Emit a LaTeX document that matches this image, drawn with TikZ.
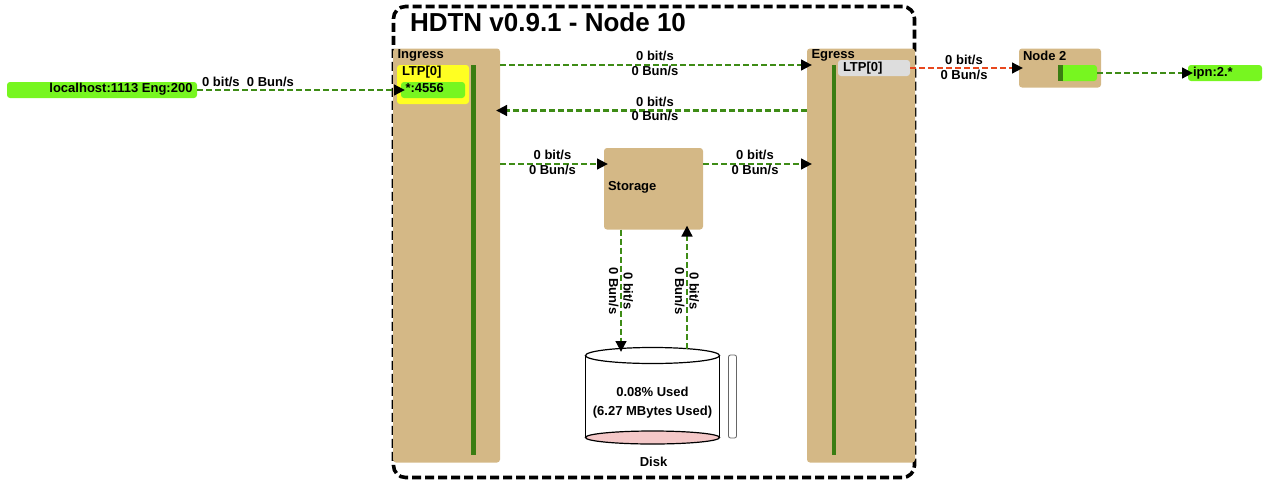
\documentclass[tikz,border=0pt]{standalone}
\usepackage{fontspec}
\setmainfont{Liberation Sans}
\usetikzlibrary{arrows.meta,calc}
\definecolor{hdtntan}{RGB}{212,184,134}
\definecolor{hdtnlime}{RGB}{119,246,32}
\definecolor{ltpyellow}{RGB}{255,255,34}
\definecolor{darkbar}{RGB}{58,125,18}
\definecolor{flowgreen}{RGB}{62,140,22}
\definecolor{flowred}{RGB}{232,72,30}
\definecolor{ltpgray}{RGB}{221,221,221}
\definecolor{diskpink}{RGB}{244,200,200}
\begin{document}
\begin{tikzpicture}[x=1pt,y=-1pt,
  every node/.style={inner sep=0pt, outer sep=0pt},
  lbl/.style={font=\bfseries\fontsize{13}{14.5}\selectfont, align=center},
  tanbox/.style={fill=hdtntan, rounded corners=3pt, anchor=north west},
  limebox/.style={fill=hdtnlime, rounded corners=3pt, anchor=north west},
  barbox/.style={fill=darkbar, anchor=north west},
  flow/.style={draw=flowgreen, line width=2.8pt, dash pattern=on 6pt off 3pt,
    -{Triangle[length=11pt,width=10.5pt,color=black,fill=black]}},
  redflow/.style={flow, draw=flowred}
]
\useasboundingbox (0,0) rectangle (1265,482);
% outer frame
\node[draw=black, line width=3.6pt, dash pattern=on 9pt off 4pt, rounded corners=12pt,
  anchor=north west, minimum width=521pt, minimum height=471pt] (frame) at (393.5,6.5) {};
\node[lbl, font=\bfseries\fontsize{26}{28}\selectfont, anchor=west] (title) at (410,22) {HDTN v0.9.1 - Node 10};

% ingress
\node[tanbox, minimum width=107pt, minimum height=414pt] (ingress) at (393,48.5) {};
\node[lbl, anchor=west] (ingresslbl) at (397.5,55.5) {Ingress};
\node[fill=ltpyellow, rounded corners=3pt, anchor=north west, minimum width=72pt, minimum height=39pt] (ltpbox) at (397,65) {};
\node[lbl, anchor=west] (ltplbl) at (402,72.5) {LTP[0]};
\node[limebox, minimum width=64pt, minimum height=16pt] (ltpin) at (401,82) {};
\node[lbl, anchor=west] (ltpinlbl) at (405.5,88.5) {*:4556};
\node[barbox, minimum width=4.5pt, minimum height=390pt] (ibar) at (471.3,65) {};

% egress
\node[tanbox, minimum width=108pt, minimum height=414pt] (egress) at (807,48.5) {};
\node[lbl, anchor=west] (egresslbl) at (811.5,55.5) {Egress};
\node[fill=ltpgray, rounded corners=3pt, anchor=north west, minimum width=72pt, minimum height=16pt] (egltp) at (838,60) {};
\node[lbl, anchor=west] (egltplbl) at (843,68) {LTP[0]};
\node[barbox, minimum width=4.5pt, minimum height=390pt] (ebar) at (831.5,65) {};

% storage
\node[tanbox, minimum width=99pt, minimum height=81.5pt] (storage) at (604,148) {};
\node[lbl, anchor=west] (storagelbl) at (608,187.5) {Storage};

% disk
\fill[white] (585.5,356) rectangle (719.5,437.5);
\draw[line width=1.2pt] (585.5,356) -- (585.5,437.5);
\draw[line width=1.2pt] (719.5,356) -- (719.5,437.5);
\draw[line width=1.2pt, fill=diskpink] (652.5,437.5) ellipse [x radius=67, y radius=6.5];
\draw[line width=1.2pt, fill=white] (652.5,355.5) ellipse [x radius=67, y radius=8];
\node[lbl, font=\bfseries\fontsize{13}{19}\selectfont] (diskused) at (652.5,402.5) {0.08\% Used\\(6.27 MBytes Used)};
\node[lbl] (disklbl) at (653.5,462) {Disk};
\node[draw=black!60, fill=white, line width=0.8pt, rounded corners=2pt, anchor=north west,
  minimum width=8pt, minimum height=83pt] (diskbar) at (728.5,355) {};
\coordinate (diskin) at (621,352);
\coordinate (diskout) at (687,348.5);

% node 2
\node[tanbox, minimum width=82pt, minimum height=39pt] (node2) at (1019,48.5) {};
\node[lbl, anchor=west] (node2lbl) at (1023,55.5) {Node 2};
\node[limebox, minimum width=38pt, minimum height=16pt] (n2in) at (1059,65) {};
\node[barbox, minimum width=4.8pt, minimum height=16pt] (n2bar) at (1057.8,65) {};

% external endpoints
\node[limebox, minimum width=190pt, minimum height=16pt] (localhost) at (7,82) {};
\node[lbl, anchor=east] (localhostlbl) at (192.5,89.5) {localhost:1113 Eng:200};
\node[limebox, minimum width=74pt, minimum height=16pt] (ipn) at (1188,65) {};
\node[lbl, anchor=west] (ipnlbl) at (1193,73) {ipn:2.*};

% connectors
\draw[flow, shorten >=-4pt] (localhost.east) -- (ltpin.west);
\node[lbl] (l1) at (248,81.5) {0 bit/s\ \ 0 Bun/s};

\draw[flow] (ingress.east |- ibar.north) -- ([xshift=5pt]egress.west |- ibar.north);
\node[lbl] (l2) at (655,63.5) {0 bit/s\\0 Bun/s};

\draw[flow] (egress.west |- 0,110.5) -- ([xshift=-4pt]ingress.east |- 0,110.5);
\node[lbl] (l3) at (655,109) {0 bit/s\\0 Bun/s};

\draw[flow] (ingress.east |- 0,164) -- ([xshift=4pt]storage.west |- 0,164);
\node[lbl] (l4) at (552.5,162.5) {0 bit/s\\0 Bun/s};

\draw[flow] (storage.east |- 0,164) -- ([xshift=5pt]egress.west |- 0,164);
\node[lbl] (l5) at (755,162.5) {0 bit/s\\0 Bun/s};

\draw[flow] (storage.south -| diskin) -- (diskin);
\node[lbl, rotate=-90] (l6) at (621,291) {0 bit/s\\0 Bun/s};

\draw[flow] (diskout) -- ([yshift=4pt]storage.south -| diskout);
\node[lbl, rotate=-90] (l7) at (687,291) {0 bit/s\\0 Bun/s};

\draw[redflow] (egltp.east) -- ([xshift=4pt]node2.west |- egltp.east);
\node[lbl] (l8) at (964,67.5) {0 bit/s\\0 Bun/s};

\draw[flow] (n2in.east) -- ([xshift=5pt]ipn.west);
\end{tikzpicture}
\end{document}
